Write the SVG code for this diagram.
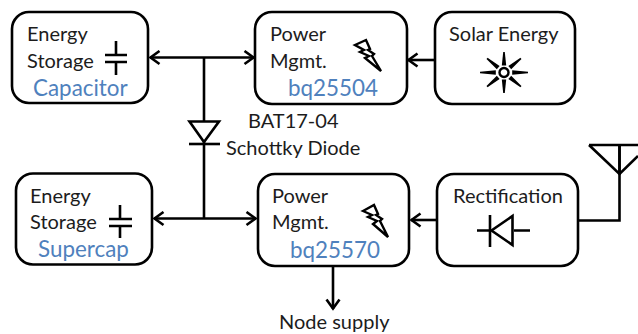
<svg xmlns="http://www.w3.org/2000/svg" width="638" height="334" viewBox="0 0 638 334">
<defs>
<marker id="ah" viewBox="0 0 14 16" refX="12.500" refY="8" markerWidth="14" markerHeight="16" markerUnits="userSpaceOnUse" orient="auto-start-reverse"><path d="M3 1.500L12 8L3 14.500" fill="none" stroke="#000" stroke-width="2.600"/></marker>
<g id="ray"><path d="M-0.800 -20.500H0.800L2.200 -7H-2.200Z" fill="#000"/></g>
</defs>
<style>
text{font-family:Lato,"Liberation Sans",sans-serif;font-size:20px;fill:#1c1c1c}
.b{font-size:22.400px;fill:#4f81bd}
.box{fill:#fff;stroke:#000;stroke-width:2.600}
.l{fill:none;stroke:#000;stroke-width:2.600}
.bolt{fill:#fff;stroke:#000;stroke-width:2.400;stroke-linejoin:miter}
</style>
<rect width="638" height="334" fill="#fff"/>
<g id="connectors">
<path class="l" d="M150 57.500H254" marker-start="url(#ah)" marker-end="url(#ah)"/>
<path class="l" d="M204 58V218"/>
<path class="l" d="M154 218.500H256" marker-start="url(#ah)" marker-end="url(#ah)"/>
<path class="l" d="M434 60H408" marker-end="url(#ah)"/>
<path class="l" d="M436 220H411" marker-end="url(#ah)"/>
<path class="l" d="M333 267V309" marker-end="url(#ah)"/>
<path class="l" d="M579 220.500H619.500V145"/>
</g>
<g id="schottky-diode">
<path d="M189.500 121.500H219L204 142Z" fill="#fff" stroke="#000" stroke-width="2.600"/>
<path class="l" d="M189 144H220"/>
<text x="248" y="128">BAT17-04</text>
<text x="226" y="155">Schottky Diode</text>
</g>
<g id="antenna">
<path class="l" d="M589 145H638M589 145L619.500 174L638 156M619.500 145V175"/>
</g>
<g id="energy-storage-capacitor">
<rect class="box" x="12" y="12" width="136" height="91" rx="17"/>
<text x="27" y="41">Energy</text>
<text x="27" y="68">Storage</text>
<text class="b" x="33" y="96">Capacitor</text>
<path class="l" d="M116 41V54M105 55H127M105 62H127M116 62V75"/>
</g>
<g id="power-mgmt-bq25504">
<rect class="box" x="255" y="12" width="152" height="92" rx="17"/>
<text x="270" y="41">Power</text>
<text x="270" y="68">Mgmt.</text>
<text class="b" x="288" y="96">bq25504</text>
<path class="bolt" d="M355 45L366 40L370 49L368 50L374 54L372 56L381 71L365 58L369 56L360 52L364 50Z"/>
</g>
<g id="solar-energy">
<rect class="box" x="435" y="12" width="140" height="92" rx="17"/>
<text x="449" y="41">Solar Energy</text>
<g transform="translate(504 72.500)">
<use href="#ray"/>
<use href="#ray" transform="rotate(50) scale(1 1.080)"/>
<use href="#ray" transform="rotate(90) scale(1 1.170)"/>
<use href="#ray" transform="rotate(130) scale(1 1.080)"/>
<use href="#ray" transform="rotate(180)"/>
<use href="#ray" transform="rotate(230) scale(1 1.080)"/>
<use href="#ray" transform="rotate(270) scale(1 1.170)"/>
<use href="#ray" transform="rotate(310) scale(1 1.080)"/>
<circle r="4.500" fill="#fff" stroke="#000" stroke-width="2.400"/>
</g>
</g>
<g id="energy-storage-supercap">
<rect class="box" x="16" y="173.500" width="136" height="91" rx="17"/>
<text x="30" y="203">Energy</text>
<text x="30" y="229">Storage</text>
<text class="b" x="38" y="257">Supercap</text>
<path class="l" d="M120 205V218M109 219H132M109 226H132M120 226V238"/>
</g>
<g id="power-mgmt-bq25570">
<rect class="box" x="258" y="174" width="151" height="92" rx="17"/>
<text x="272" y="203">Power</text>
<text x="272" y="229">Mgmt.</text>
<text class="b" x="290" y="258">bq25570</text>
<path class="bolt" d="M363 211L374 205L378 214L376 215L382 219L380 221L388 237L373 224L377 221L368 217L372 215Z"/>
</g>
<g id="rectification">
<rect class="box" x="437" y="174" width="141" height="92" rx="17"/>
<text x="453" y="203">Rectification</text>
<path class="l" d="M477 230.500H490M490 215V247M514 230.500H530"/>
<path class="l" d="M512.500 216V245L491.500 230.500Z" fill="#fff"/>
</g>
<g id="node-supply">
<text x="279" y="329">Node supply</text>
</g>
</svg>
